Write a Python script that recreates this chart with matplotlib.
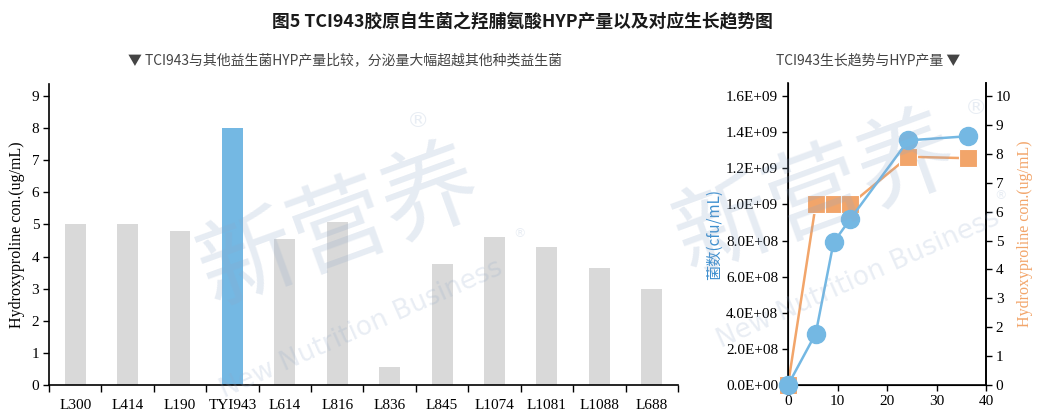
import matplotlib
matplotlib.use("Agg")
import matplotlib.pyplot as plt
import numpy as np

# ---- data ----
strains = ["L300", "L414", "L190", "TYI943", "L614", "L816", "L836", "L845",
           "L1074", "L1081", "L1088", "L688"]
hyp_values = [5.0, 5.0, 4.8, 8.0, 4.55, 5.08, 0.55, 3.77, 4.62, 4.29, 3.63, 2.99]
highlight = "TYI943"

time_h = [0, 5.6, 9.2, 12.6, 24.3, 36.4]
cfu = [0.0, 2.85e8, 7.9e8, 9.2e8, 1.355e9, 1.378e9]
hyp_time = [0.0, 6.25, 6.25, 6.25, 7.9, 7.85]

left_yticks = list(range(0, 10))
cfu_ticks = [0, 2e8, 4e8, 6e8, 8e8, 1.0e9, 1.2e9, 1.4e9, 1.6e9]
cfu_ticklabels = ["0.0E+00", "2.0E+08", "4.0E+08", "6.0E+08", "8.0E+08",
                  "1.0E+09", "1.2E+09", "1.4E+09", "1.6E+09"]
right_yticks = list(range(0, 11))
time_ticks = [0, 10, 20, 30, 40]

title = "图5 TCI943胶原自生菌之羟脯氨酸HYP产量以及对应生长趋势图"
sub_left = "▼ TCI943与其他益生菌HYP产量比较，分泌量大幅超越其他种类益生菌"
sub_right = "TCI943生长趋势与HYP产量 ▼"

CJK = ["Noto Sans CJK SC", "DejaVu Sans"]
SERIF = "Liberation Serif"
GRAY = "#D9D9D9"
BLUE = "#74B8E3"
ORANGE = "#F2A56A"

fig = plt.figure(figsize=(10.44, 4.17), dpi=100)

# ---- left bar chart ----
ax = fig.add_axes([0.0469, 0.0767, 0.6025, 0.7218])
x = np.arange(len(strains))
colors = [BLUE if s == highlight else GRAY for s in strains]
ax.bar(x, hyp_values, width=0.40, color=colors, zorder=2)
ax.set_xlim(-0.5, len(strains) - 0.5)
ax.set_ylim(0, 9.37)
ax.set_yticks(left_yticks)
ax.set_yticklabels([str(v) for v in left_yticks], fontfamily=SERIF, fontsize=11)
ax.set_xticks(x)
ax.set_xticklabels(strains, fontfamily=SERIF, fontsize=11)
ax.tick_params(axis="x", which="major", length=0, pad=10)
ax.set_xticks(np.arange(-0.5, len(strains), 1.0), minor=True)
ax.tick_params(axis="x", which="minor", length=5, width=1, direction="out")
ax.tick_params(axis="y", length=4, width=1, direction="out", pad=3)
for s in ["top", "right"]:
    ax.spines[s].set_visible(False)
for s in ["left", "bottom"]:
    ax.spines[s].set_linewidth(1.2)
ax.set_ylabel("Hydroxyproline con.(ug/mL)", fontfamily=SERIF, fontsize=11.5, labelpad=5)

# ---- right line chart ----
ax2 = fig.add_axes([0.7548, 0.0767, 0.1897, 0.724])
ax2.plot(time_h, cfu, color=BLUE, lw=1.8, marker="o", ms=13, mfc=BLUE,
         mec=BLUE, zorder=3, clip_on=False)
ax2.set_xlim(0, 40)
ax2.set_ylim(0, 1.672e9)
ax2.set_xticks(time_ticks)
ax2.set_xticklabels([str(t) for t in time_ticks], fontfamily=SERIF, fontsize=11)
ax2.set_yticks(cfu_ticks)
ax2.set_yticklabels(cfu_ticklabels, fontfamily=SERIF, fontsize=11)
ax2.tick_params(length=4, width=1, direction="out", pad=3)
ax2.spines["top"].set_visible(False)
for s in ["left", "bottom", "right"]:
    ax2.spines[s].set_linewidth(1.2)
ax2.set_ylabel("菌数(cfu/mL)", family=["Noto Sans CJK SC", SERIF], fontsize=11,
               color="#3D8FCF", labelpad=2)

ax3 = ax2.twinx()
ax3.plot(time_h, hyp_time, color=ORANGE, lw=1.8, marker="s", ms=13, mfc=ORANGE,
         mec="white", mew=0.8, zorder=2, clip_on=False)
ax3.set_ylim(0, 10.45)
ax3.set_yticks(right_yticks)
ax3.set_yticklabels([str(v) for v in right_yticks], fontfamily=SERIF, fontsize=11)
ax3.tick_params(length=4, width=1, direction="out", pad=3)
ax3.spines["top"].set_visible(False)
ax3.spines["right"].set_linewidth(1.2)
ax3.set_ylabel("Hydroxyproline con.(ug/mL)", fontfamily=SERIF, fontsize=11.5,
               color=ORANGE, labelpad=4)
ax2.set_zorder(ax3.get_zorder() + 1)
ax2.patch.set_visible(False)

# ---- titles ----
fig.text(0.5, 0.947, title, ha="center", va="center", family=CJK, fontsize=12.8,
         fontweight="bold", color="#1a1a1a")
fig.text(0.330, 0.856, sub_left, ha="center", va="center", family=CJK,
         fontsize=10, color="#444444")
fig.text(0.832, 0.856, sub_right, ha="center", va="center", family=CJK,
         fontsize=10, color="#444444")

# ---- watermarks ----
wm_color = "#8FA8C8"
marks = [((0.326, 0.45), (0.346, 0.21), (0.40, 0.71), (0.498, 0.44)),
         ((0.782, 0.53), (0.822, 0.33), (0.935, 0.74), (0.958, 0.53))]
for (c1, c2, r1, r2) in marks:
    fig.text(c1[0], c1[1], "新营养", ha="center", va="center", family=CJK,
             fontsize=70, color=wm_color, alpha=0.22, rotation=20, zorder=10)
    fig.text(c2[0], c2[1], "New Nutrition Business", ha="center", va="center",
             family=["DejaVu Sans"], fontsize=19, color=wm_color, alpha=0.2,
             rotation=24, zorder=10)
    fig.text(r1[0], r1[1], "®", ha="center", va="center", family=["DejaVu Sans"],
             fontsize=16, color=wm_color, alpha=0.2, zorder=10)
    fig.text(r2[0], r2[1], "®", ha="center", va="center", family=["DejaVu Sans"],
             fontsize=9, color=wm_color, alpha=0.2, zorder=10)

fig.savefig("out.png", dpi=100)
